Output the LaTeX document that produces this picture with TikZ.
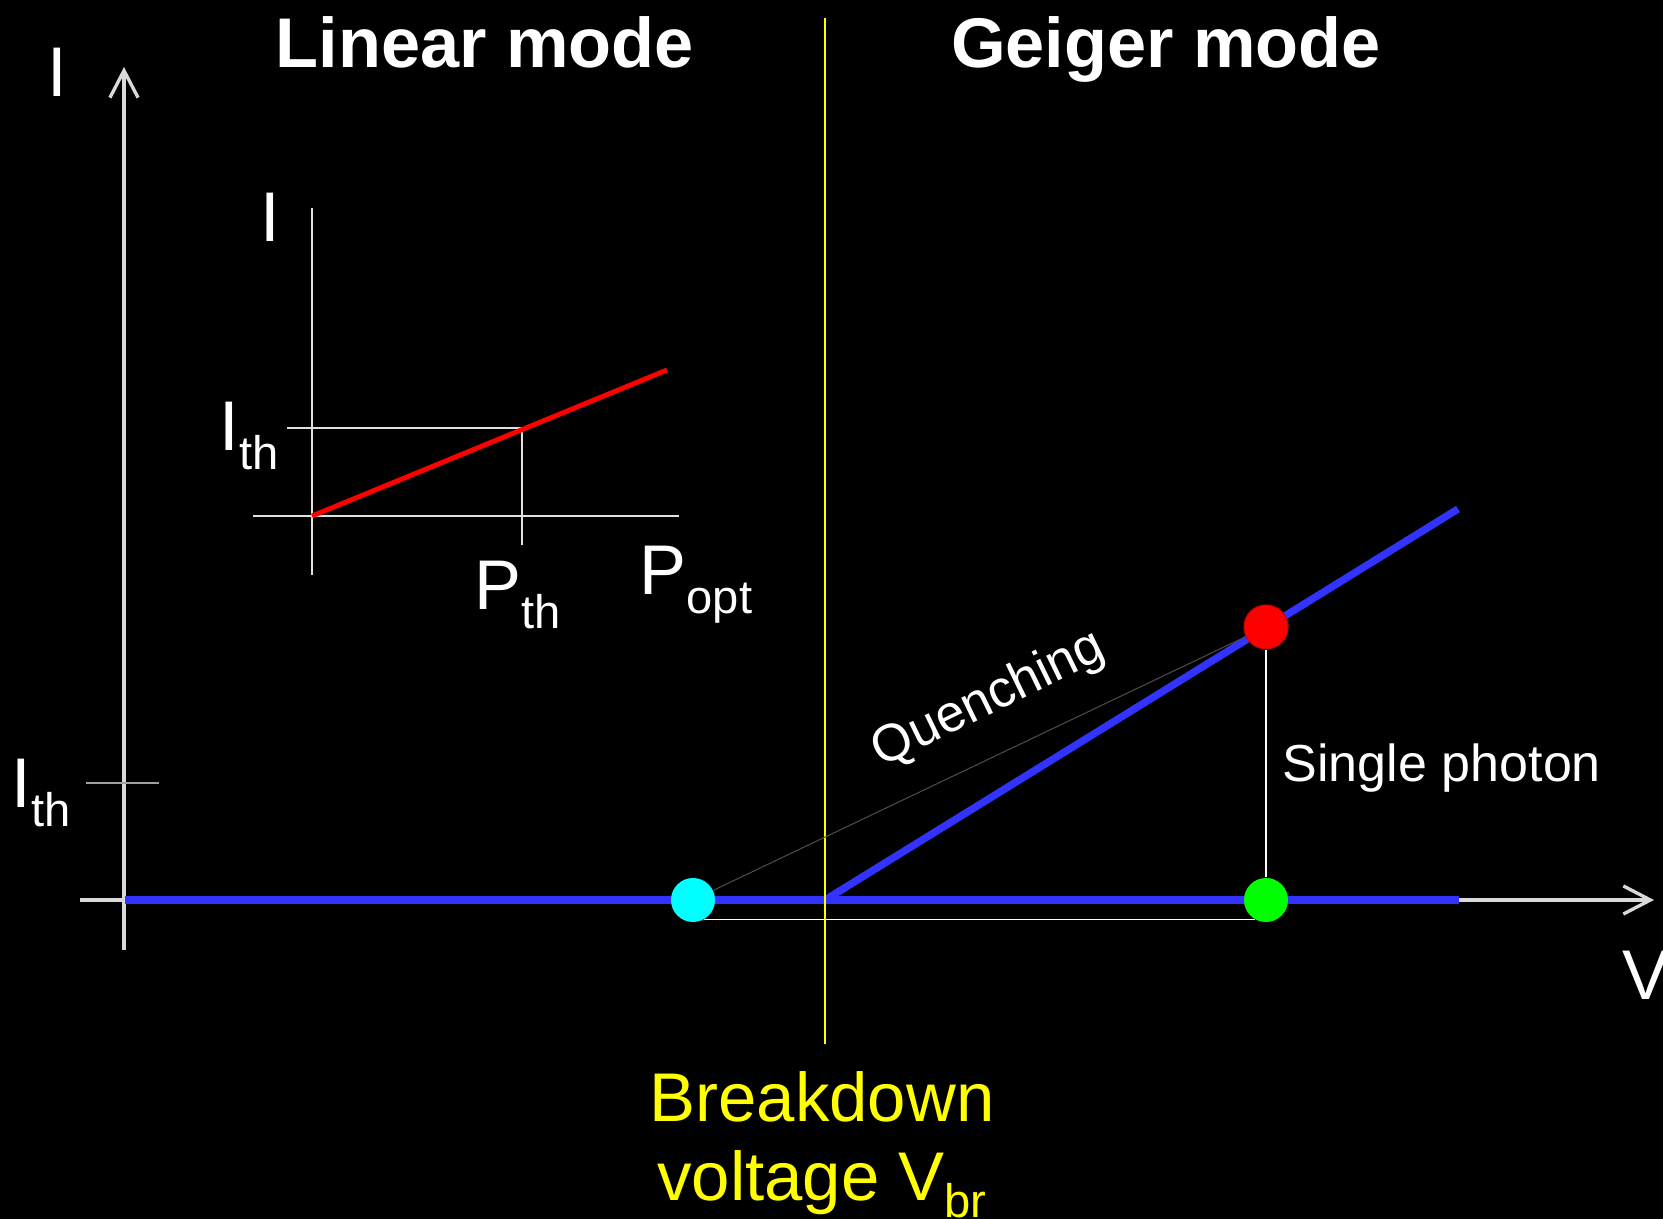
\documentclass[tikz,border=0pt]{standalone}
\usepackage{fontspec}
\setmainfont{Liberation Sans}
\usetikzlibrary{positioning,arrows.meta,calc}
\definecolor{apdblue}{RGB}{51,51,255}
\definecolor{apdgray}{RGB}{217,217,217}
\definecolor{apdtick}{RGB}{160,160,160}
\definecolor{apdquench}{RGB}{75,75,75}
\definecolor{apdyellow}{RGB}{255,255,0}
\definecolor{apdcyan}{RGB}{0,255,255}
\definecolor{apdgreen}{RGB}{0,255,0}
\definecolor{apdred}{RGB}{255,0,0}
\newcommand{\lowidx}[1]{\raisebox{-0.26em}{\fontsize{13.4}{16}\selectfont #1}}
\tikzset{
  axis/.style={apdgray, line width=0.95pt},
  axisarrow/.style={axis, -{Straight Barb[length=7.7pt, width=8pt]}},
  tickline/.style={apdtick, line width=0.4pt},
  insetline/.style={white!88!black, line width=0.3pt},
  ivline/.style={apdblue, line width=2.1pt},
  redline/.style={apdred, line width=1.4pt},
  brkline/.style={apdyellow, line width=0.4pt},
  quench/.style={apdquench, line width=0.3pt},
  thinw/.style={white, line width=0.35pt},
  dot/.style={circle, inner sep=0pt, minimum size=0.44cm},
  title/.style={text=white, font=\fontsize{20}{24}\selectfont\bfseries, inner sep=0pt, anchor=base},
  lbl/.style={text=white, font=\fontsize{20}{24}\selectfont, inner sep=0pt, anchor=base west},
  note/.style={text=white, font=\fontsize{14.8}{18}\selectfont, inner sep=0pt},
  brklbl/.style={text=apdyellow, font=\fontsize{19.6}{24}\selectfont, inner sep=0pt, anchor=base}
}

\begin{document}
\begin{tikzpicture}[x=0.01cm, y=-0.01cm]
  \fill[black] (0,0) rectangle (1663,1219);
  \useasboundingbox (0,0) rectangle (1663,1219);

  % main axes
  \coordinate (vbot) at (124,950);
  \coordinate (vtop) at (124,67);
  \coordinate (hleft) at (80,900);
  \coordinate (hright) at (1654,900);
  \draw[axisarrow] (vbot) -- (vtop);
  \draw[axisarrow] (hleft) -- (hright);
  \coordinate (ithl) at (86,783);
  \coordinate (ithr) at (159,783);
  \draw[tickline] (ithl) -- (ithr);

  \node[lbl] (ilab) at (47,97) {I};
  \node[lbl] (ithlab) at (11,808) {I\lowidx{th}};
  \node[lbl] (vlab) at (1622,999) {V};

  \node[title] (linear) at (485,68) {Linear mode};
  \node[title] (geiger) at (1166,68) {Geiger mode};

  % inset: I vs P_opt
  \coordinate (ia0) at (312,575);
  \coordinate (ia1) at (312,208);
  \coordinate (ib0) at (253,516);
  \coordinate (ib1) at (679,516);
  \coordinate (ith0) at (287,428);
  \coordinate (pth) at (522,428);
  \coordinate (pth1) at (522,545);
  \coordinate (r0) at (312,516);
  \coordinate (r1) at (667,370);
  \draw[insetline] (ia0) -- (ia1);
  \draw[insetline] (ib0) -- (ib1);
  \draw[insetline] (ith0) -- (pth) -- (pth1);
  \draw[redline] (r0) -- (r1);

  \node[lbl] (iinset) at (260,242) {I};
  \node[lbl] (ithinset) at (219,451) {I\lowidx{th}};
  \node[lbl] (pthlab) at (474,610) {P\lowidx{th}};
  \node[lbl] (poptlab) at (639,595) {P\lowidx{opt}};

  % I-V curve
  \coordinate (c0) at (125,900);
  \coordinate (vbr) at (825,900);
  \coordinate (c1) at (1459,900);
  \coordinate (c2) at (1458,509);
  \draw[ivline] (c0) -- (c1);
  \draw[ivline] (vbr) -- (c2);

  % breakdown
  \coordinate (ytop) at (825,18);
  \coordinate (ybot) at (825,1044);
  \draw[brkline] (ytop) -- (ybot);
  \node[brklbl] (bdtop) at (822,1122) {Breakdown};
  \node[brklbl] (bdbot) at (822,1200) {voltage V\lowidx{br}};

  \node[dot, fill=apdcyan] (cyan) at (693,900) {};
  \node[dot, fill=apdred, draw=apdred!80!black, line width=0.3pt] (red) at (1266,627) {};
  \node[dot, fill=apdgreen] (green) at (1266,900) {};
  \draw[quench] (cyan) -- (red);
  \draw[thinw] (red) -- (green);
  \draw[thinw] (cyan.-60) -- (green.-120);

  \node[note, rotate=26] (quenching) at (989,700) {Quenching};
  \node[note, anchor=base west] (single) at (1282,782) {Single photon};
\end{tikzpicture}
\end{document}
